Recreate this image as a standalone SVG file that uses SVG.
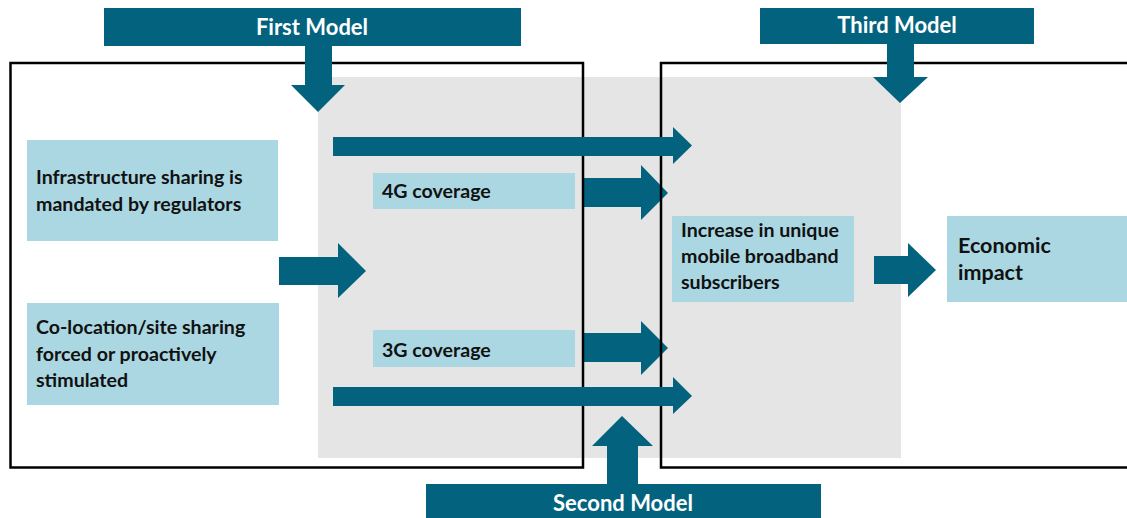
<svg xmlns="http://www.w3.org/2000/svg" width="1127" height="518" viewBox="0 0 1127 518">
<style>
.arr{fill:#03637f}
.lbl{fill:#aad7e2}
.t{font-family:Lato,"Open Sans","Liberation Sans",sans-serif;font-weight:bold;font-size:19.6px;fill:#111}
.w{font-family:Lato,"Open Sans","Liberation Sans",sans-serif;font-weight:bold;font-size:22px;fill:#fff;text-anchor:middle}
.frame{fill:none;stroke:#000;stroke-width:2.5}
</style>
<rect width="1127" height="518" fill="#fff"/>
<rect id="shade" x="318" y="77" width="583" height="381" fill="#e5e5e5"/>

<g id="connectors-under">
<path class="arr" d="M582,178 H641 V165 L668,193 L641,220 V207 H582 Z"/>
<path class="arr" d="M582,333 H641 V321 L668,348 L641,375 V362 H582 Z"/>
</g>

<g id="frames">
<rect class="frame" x="10.5" y="63" width="572.5" height="404.5"/>
<rect class="frame" x="661" y="63" width="480" height="404.5"/>
</g>

<g id="connectors">
<path class="arr" d="M333,137 H673 V127 L692,145.5 L673,164 V156 H333 Z"/>
<path class="arr" d="M333,387 H673 V377 L692,396 L673,414 V406 H333 Z"/>
<path class="arr" d="M279,257 H338 V243 L366,271 L338,298 V285 H279 Z"/>
<path class="arr" d="M874,256 H908 V243 L936,270 L908,297 V284 H874 Z"/>
<path class="arr" d="M305,46 H332 V85 H345 L318,112 L291,85 H305 Z"/>
<path class="arr" d="M887,44 H914 V77 H928 L900,103 L873,77 H887 Z"/>
<path class="arr" d="M607,485 H638 V446 H653 L622,416 L592,446 H607 Z"/>
</g>

<g id="first-model">
<rect class="arr" x="104" y="8" width="417" height="38"/>
<text class="w" x="312" y="35">First Model</text>
</g>
<g id="third-model">
<rect class="arr" x="760" y="8" width="274" height="36"/>
<text class="w" x="897" y="33">Third Model</text>
</g>
<g id="second-model">
<rect class="arr" x="426" y="484" width="395" height="34"/>
<text class="w" x="623" y="511">Second Model</text>
</g>

<g id="infra">
<rect class="lbl" x="27" y="140" width="251" height="101"/>
<text class="t" x="36" y="184">Infrastructure sharing is</text>
<text class="t" x="36" y="211">mandated by regulators</text>
</g>
<g id="colocation">
<rect class="lbl" x="27" y="303" width="252" height="102"/>
<text class="t" x="36" y="334">Co-location/site sharing</text>
<text class="t" x="36" y="361">forced or proactively</text>
<text class="t" x="36" y="387">stimulated</text>
</g>
<g id="cov4g">
<rect class="lbl" x="373" y="173" width="202" height="36"/>
<text class="t" x="382" y="198">4G coverage</text>
</g>
<g id="cov3g">
<rect class="lbl" x="373" y="330" width="202" height="37"/>
<text class="t" x="382" y="357">3G coverage</text>
</g>
<g id="increase">
<rect class="lbl" x="672" y="216" width="182" height="86"/>
<text class="t" x="681" y="237">Increase in unique</text>
<text class="t" x="681" y="263">mobile broadband</text>
<text class="t" x="681" y="289">subscribers</text>
</g>
<g id="economic">
<rect class="lbl" x="947" y="216" width="185" height="86"/>
<text class="t" x="958" y="253" style="font-size:21.5px">Economic</text>
<text class="t" x="958" y="280" style="font-size:21.5px">impact</text>
</g>
</svg>
